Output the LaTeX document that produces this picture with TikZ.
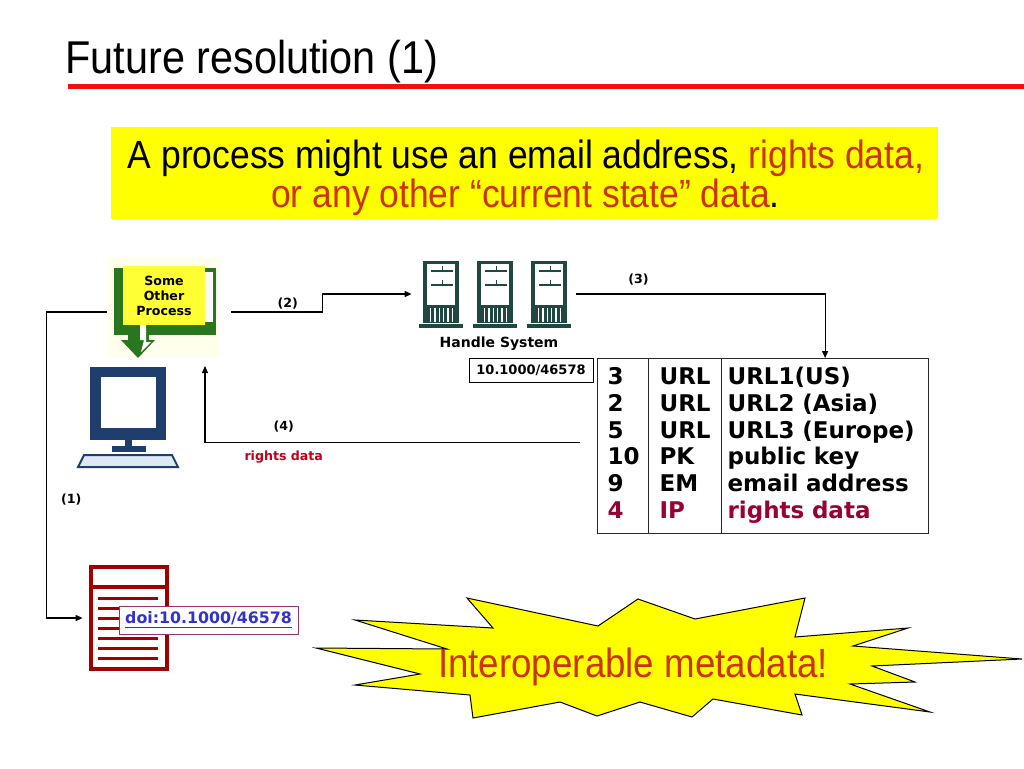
\documentclass[tikz,border=0pt]{standalone}
\usepackage{fontspec}
\setmainfont{DejaVu Sans}
\newfontfamily\comicfont[FakeStretch=0.9]{Liberation Sans}
\usepackage{xcolor}
\usetikzlibrary{arrows.meta}
\definecolor{hlyellow}{RGB}{255,255,0}
\definecolor{paleyellow}{RGB}{255,255,236}
\definecolor{rustred}{RGB}{204,51,0}
\definecolor{titlered}{RGB}{240,16,16}
\definecolor{procgreen}{RGB}{42,118,30}
\definecolor{procyellow}{RGB}{255,255,51}
\definecolor{navy}{RGB}{31,62,110}
\definecolor{keyblue}{RGB}{222,232,246}
\definecolor{srvteal}{RGB}{32,72,66}
\definecolor{docred}{RGB}{160,0,0}
\definecolor{linkblue}{RGB}{51,51,204}
\definecolor{linkframe}{RGB}{153,51,102}
\definecolor{rightsred}{RGB}{192,0,24}
\definecolor{tablered}{RGB}{153,0,51}
\definecolor{tablegray}{RGB}{40,40,40}
\tikzstyle{link} = [line width=0.6pt, -{Triangle[length=3.5pt,width=3pt]}]
\tikzstyle{anchorbox} = [inner sep=0, minimum size=0]
\tikzstyle{numlabel} = [font=\bfseries\fontsize{6.3}{7.5}\selectfont, inner sep=1pt]
\tikzstyle{tablecol} = [draw=tablegray, line width=0.6pt, anchor=north west,
   minimum height=87.5pt, align=left,
   font=\bfseries\fontsize{11.5}{13.4}\selectfont]

\begin{document}
\begin{tikzpicture}[x=0.5pt, y=-0.5pt]
  \useasboundingbox (0,0) rectangle (1024,768);

  % title and claim
  \node[anchor=base west, inner sep=0, font=\comicfont\fontsize{23}{28}\selectfont] (title) at (65,73) {Future resolution (1)};
  \draw[titlered, line width=2.5pt] (68,86) -- (1024,86);
  \node[fill=hlyellow, minimum width=413.5pt, minimum height=46pt, inner sep=0] (claim) at (524.5,173) {};
  \node[anchor=base, inner sep=0, font=\comicfont\fontsize{19.7}{24}\selectfont] (claimA) at (526,168)
    {A process might use an email address, \textcolor{rustred}{rights data,}};
  \node[anchor=base, inner sep=0, font=\comicfont\fontsize{19.7}{24}\selectfont] (claimB) at (525.5,207)
    {\textcolor{rustred}{or any other “current state” data}.};

  % some other process
  \fill[paleyellow] (108,258) rectangle (220,358);
  \fill[procgreen] (114,268) rectangle (216,335);
  \fill[white] (205,272) rectangle (213,322);
  \fill[procyellow] (123,266) rectangle (205,325);
  \fill[procgreen] (128,325) -- (149,325) -- (149,340) -- (155,340) -- (138,358) -- (121,340) -- (128,340) -- cycle;
  \fill[white] (140,325) -- (146,325) -- (146,342) -- (151,342) -- (141,352) -- (144,340) -- (140,340) -- cycle;
  \node[align=center, inner sep=0, font=\bfseries\fontsize{6.3}{7.5}\selectfont] (proctext) at (164,296) {Some\\Other\\Process};
  \node[anchorbox, minimum width=62pt, minimum height=40pt] (proc) at (169,312) {};

  % computer
  \fill[navy] (90,367) rectangle (166,440);
  \fill[white] (101,377) rectangle (156,428);
  \fill[navy] (125,440) rectangle (132,446);
  \fill[navy] (112,446) rectangle (146,452);
  \filldraw[fill=keyblue, draw=navy, line width=1pt] (84,455) -- (172,455) -- (178,467) -- (78,467) -- cycle;
  \coordinate (ret) at (205,366);

  % handle system servers
  \foreach \dx in {0,54,108} {
    \begin{scope}[shift={(\dx,0)}]
      \fill[srvteal] (423,261) rectangle (459,323);
      \fill[white] (427,264) rectangle (455,305);
      \draw[srvteal, line width=0.7pt] (431,271) -- (453,271) (431,285) -- (453,285);
      \draw[srvteal, line width=0.4pt] (442,266) -- (442,271) (442,280) -- (442,285);
      \foreach \sx in {430.7,435,439.3,443.7,448,452.3}
        \draw[white, line width=0.6pt] (\sx,308) -- (\sx,322);
      \fill[srvteal] (419,324) rectangle (463,328);
    \end{scope}
  }
  \node[anchorbox, minimum width=82pt, minimum height=36pt] (hs) at (494,294) {};
  \node[font=\bfseries\fontsize{7}{8}\selectfont, inner sep=0] (hslabel) at (499,344) {Handle System};
  \node[draw, line width=0.5pt, minimum width=62pt, minimum height=12pt, inner sep=0,
    font=\bfseries\fontsize{6.5}{7.5}\selectfont] (hdl) at (531,370) {10.1000/46578};

  % handle record
  \node[tablecol, text width=15.5pt, inner xsep=5pt] (c1) at (597,358)
    {\strut 3\\2\\5\\10\\9\\\textcolor{tablered}{4}\strut};
  \node[tablecol, text width=25.5pt, inner xsep=5.5pt] (c2) at (648,358)
    {\strut URL\\URL\\URL\\PK\\EM\\\textcolor{tablered}{IP}\strut};
  \node[tablecol, text width=97.5pt, inner xsep=3pt] (c3) at (721,358)
    {\strut URL1(US)\\URL2 (Asia)\\URL3 (Europe)\\public key\\email address\\\textcolor{tablered}{rights data}\strut};

  % document
  \draw[docred, line width=2pt] (91,567) rectangle (167,669);
  \draw[docred, line width=2pt] (91,587) -- (167,587);
  \foreach \ly in {598,608,618,628,638,648,658}
    \draw[docred, line width=1.5pt] (98,\ly) -- (158,\ly);
  \node[anchorbox, minimum width=45pt, minimum height=53pt] (doc) at (128,618) {};
  \node[draw=linkframe, fill=white, line width=0.5pt, minimum width=89.5pt, minimum height=14pt, inner sep=0,
    text=linkblue, font=\bfseries\fontsize{7.9}{9}\selectfont] (doi) at (208.5,620) {\underline{doi:10.1000/46578}};

  % arrows
  \draw[link] (proc.west) -- ++(-60,0) |- (doc.west) node[numlabel, pos=0.307, right=6pt] {(1)};
  \draw[link] (proc.east) -- ++(91,0) node[numlabel, pos=0.62, above] {(2)} |- (hs.west);
  \draw[link] (hs.east) -| (c3.north) node[numlabel, pos=0.125, above=3pt] {(3)};
  \draw[link] ([xshift=-8.5pt,yshift=1.75pt]c1.west) -| (ret)
    node[numlabel, pos=0.395, above=4pt] {(4)}
    node[numlabel, pos=0.395, below=3pt, text=rightsred] {rights data};

  % burst
  \filldraw[fill=hlyellow, draw=black, line width=0.5pt] (316,648) -- (447,649) -- (355,620) -- (493,628)
    -- (467,598) -- (598,626) -- (638,599) -- (695,619) -- (805,598) -- (795,637) -- (908,628)
    -- (853,646) -- (1022,659) -- (872,666) -- (915,682) -- (850,684) -- (930,712) -- (795,694)
    -- (802,715) -- (713,699) -- (692,717) -- (640,702) -- (597,716) -- (560,702) -- (473,718)
    -- (470,695) -- (355,685) -- (420,674) -- cycle;
  \node[anchor=base, inner sep=0, text=rustred, font=\comicfont\fontsize{20.4}{24}\selectfont] (burst) at (633,677) {Interoperable metadata!};
\end{tikzpicture}
\end{document}
